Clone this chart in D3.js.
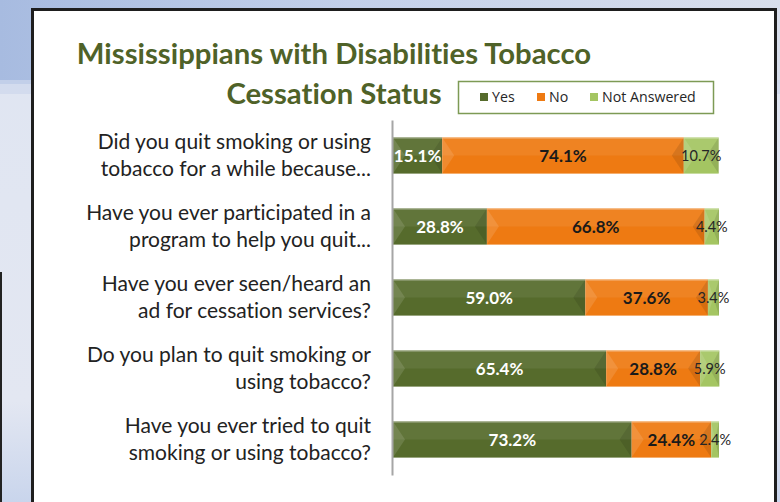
<!DOCTYPE html>
<html>
<head>
<meta charset="utf-8">
<script src="https://cdn.jsdelivr.net/npm/d3@7/dist/d3.min.js"></script>
<style>
  html, body { margin: 0; padding: 0; background: #dfe5f1; }
  svg { display: block; }
  text { font-variant-ligatures: none; }
</style>
</head>
<body>
<svg id="chart" width="780" height="502"></svg>
<script>
// Survey questions (each split over two lines) and the answer shares in percent
const categories = [
  "Did you quit smoking or using|tobacco for a while because...",
  "Have you ever participated in a|program to help you quit...",
  "Have you ever seen/heard an|ad for cessation services?",
  "Do you plan to quit smoking or|using tobacco?",
  "Have you ever tried to quit|smoking or using tobacco?"
];
const yesValues = [15.1, 28.8, 59.0, 65.4, 73.2];
const noValues  = [74.1, 66.8, 37.6, 28.8, 24.4];
const naValues  = [10.7, 4.4, 3.4, 5.9, 2.4];
const seriesNames = ["Yes", "No", "Not Answered"];
const titleLines = ["Mississippians with Disabilities Tobacco", "Cessation Status"];

const colors = { "Yes": "#566b2c", "No": "#ee7a12", "Not Answered": "#a4c562" };
const labelColors = { "Yes": "#ffffff", "No": "#1a1a1a", "Not Answered": "#262626" };

const svg = d3.select("#chart");
const titleFont = "Lato, 'Noto Sans', sans-serif";
const bodyFont = "'Open Sans', 'Noto Sans', sans-serif";

// ---- slide background ----
const defs = svg.append("defs");
const bgTop = defs.append("linearGradient").attr("id", "bgTop")
  .attr("x1", 0).attr("x2", 1).attr("y1", 0).attr("y2", 0);
bgTop.append("stop").attr("offset", 0).attr("stop-color", "#a7bbe0");
bgTop.append("stop").attr("offset", 0.45).attr("stop-color", "#c3d0ea");
bgTop.append("stop").attr("offset", 1).attr("stop-color", "#d9dfec");
const bgFade = defs.append("linearGradient").attr("id", "bgFade")
  .attr("x1", 0).attr("x2", 0).attr("y1", 0).attr("y2", 1);
bgFade.append("stop").attr("offset", 0).attr("stop-color", "#dfe5f2");
bgFade.append("stop").attr("offset", 0.8).attr("stop-color", "#e3e7f2");
bgFade.append("stop").attr("offset", 1).attr("stop-color", "#c9d5ec");

svg.append("rect").attr("width", 780).attr("height", 502).attr("fill", "url(#bgFade)");
svg.append("rect").attr("width", 780).attr("height", 84).attr("fill", "url(#bgTop)");
svg.append("rect").attr("y", 80).attr("width", 780).attr("height", 14)
  .attr("fill", "#cdd7ec").attr("opacity", 0.7);
svg.append("line").attr("x1", 1).attr("x2", 1).attr("y1", 272).attr("y2", 502)
  .attr("stroke", "#222").attr("stroke-width", 2);

// ---- white chart panel ----
svg.append("rect")
  .attr("x", 32.5).attr("y", 9.5).attr("width", 743).attr("height", 500)
  .attr("fill", "#ffffff").attr("stroke", "#1e1e1e").attr("stroke-width", 3);

// ---- title ----
const title = svg.append("text")
  .attr("x", 334).attr("text-anchor", "middle")
  .attr("font-family", titleFont).attr("font-weight", "bold")
  .attr("font-size", 29.3).attr("fill", "#4f6228");
title.selectAll("tspan").data(titleLines).join("tspan")
  .attr("x", 334).attr("y", (d, i) => 64 + i * 40)
  .text(d => d);

// ---- scales ----
const y = d3.scaleBand()
  .domain(categories)
  .range([120, 475])
  .paddingInner(0.49)
  .paddingOuter(0.245);
const x = d3.scaleLinear().domain([0, 100]).range([393, 719]);

// ---- stacked rows ----
const rows = categories.map((c, i) => ({
  category: c, "Yes": yesValues[i], "No": noValues[i], "Not Answered": naValues[i]
}));
const stacked = d3.stack().keys(seriesNames)(rows);

const layers = svg.append("g").selectAll("g")
  .data(stacked).join("g")
  .attr("data-series", d => d.key);

layers.each(function (layer) {
  const g = d3.select(this);
  const key = layer.key;
  const segs = g.selectAll("g.seg").data(layer).join("g").attr("class", "seg");

  segs.append("rect")
    .attr("x", d => x(d[0]))
    .attr("y", d => y(d.data.category))
    .attr("width", d => x(d[1]) - x(d[0]))
    .attr("height", y.bandwidth())
    .attr("fill", colors[key]);

  // bevel shading: lighter upper half, light left chevron, dark right chevron
  segs.append("rect")
    .attr("x", d => x(d[0]))
    .attr("y", d => y(d.data.category))
    .attr("width", d => x(d[1]) - x(d[0]))
    .attr("height", y.bandwidth() / 2)
    .attr("fill", "#ffffff").attr("opacity", 0.07);
  segs.append("path")
    .attr("d", d => {
      const x0 = x(d[0]), x1 = x(d[1]);
      const y0 = y(d.data.category), h = y.bandwidth();
      const inset = Math.min(12, (x1 - x0) / 2);
      return `M${x0},${y0}L${x0 + inset},${y0 + h / 2}L${x0},${y0 + h}Z`;
    })
    .attr("fill", "#ffffff").attr("opacity", 0.12);
  segs.append("path")
    .attr("d", d => {
      const x0 = x(d[0]), x1 = x(d[1]);
      const y0 = y(d.data.category), h = y.bandwidth();
      const inset = Math.min(12, (x1 - x0) / 2);
      return `M${x1},${y0}L${x1 - inset},${y0 + h / 2}L${x1},${y0 + h}Z`;
    })
    .attr("fill", "#000000").attr("opacity", 0.1);
  segs.append("rect")
    .attr("x", d => x(d[0]))
    .attr("y", d => y(d.data.category))
    .attr("width", d => x(d[1]) - x(d[0]))
    .attr("height", 1.5)
    .attr("fill", "#ffffff").attr("opacity", 0.25);

  // value labels centred in each segment
  const small = key === "Not Answered";
  segs.append("text")
    .attr("x", d => (x(d[0]) + x(d[1])) / 2)
    .attr("y", d => y(d.data.category) + y.bandwidth() / 2 + (small ? 5 : 6))
    .attr("text-anchor", "middle")
    .attr("font-family", titleFont)
    .attr("font-weight", small ? "normal" : "bold")
    .attr("font-size", small ? 14.5 : 17)
    .attr("fill", labelColors[key])
    .text(d => (d[1] - d[0]).toFixed(1) + "%");
});

// ---- category axis ----
const axis = svg.append("g")
  .attr("transform", `translate(${x(0) - 1},0)`)
  .call(d3.axisLeft(y).tickSize(0).tickFormat(""));
axis.select(".domain").attr("stroke", "#a6a6a6").attr("stroke-width", 2);

const catLabels = svg.append("g").selectAll("text")
  .data(categories).join("text")
  .attr("text-anchor", "end")
  .attr("font-family", titleFont)
  .attr("font-size", 21)
  .attr("fill", "#222222");
catLabels.selectAll("tspan")
  .data(c => c.split("|").map((line, i) => ({ c, line, i })))
  .join("tspan")
  .attr("x", 371)
  .attr("y", d => y(d.c) + y.bandwidth() / 2 - 7 + d.i * 27)
  .text(d => d.line);

// ---- legend ----
const legend = svg.append("g");
legend.append("rect")
  .attr("x", 458.5).attr("y", 81.5).attr("width", 255).attr("height", 32)
  .attr("fill", "#ffffff").attr("stroke", "#7d9a55").attr("stroke-width", 1.5);
const legendX = [480, 537, 590];
const items = legend.selectAll("g.item").data(seriesNames).join("g")
  .attr("class", "item")
  .attr("transform", (d, i) => `translate(${legendX[i]},97)`);
items.append("rect")
  .attr("x", 0).attr("y", -4).attr("width", 8).attr("height", 8)
  .attr("fill", d => colors[d]);
items.append("text")
  .attr("x", 12).attr("y", 4.5)
  .attr("font-family", bodyFont).attr("font-size", 14.2).attr("fill", "#262626")
  .text(d => d);
</script>
</body>
</html>
